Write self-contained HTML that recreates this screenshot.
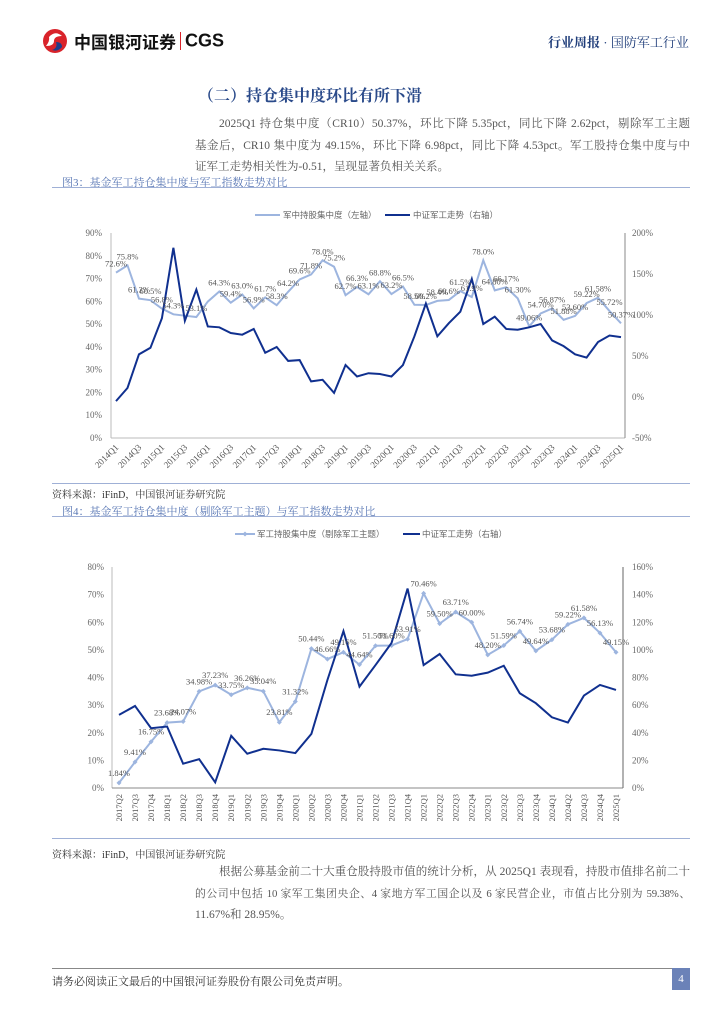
<!DOCTYPE html>
<html><head><meta charset="utf-8">
<style>
body{margin:0;width:724px;height:1024px;background:#fff;position:relative;font-family:"Liberation Serif","Noto Serif CJK SC",serif;color:#444;overflow:hidden}
.abs{position:absolute;white-space:nowrap}
.p{font-size:11.5px;color:#555;width:495px}
.p div{height:21.5px;line-height:21.5px;text-align:justify;text-align-last:justify;white-space:normal;overflow:hidden}
.p div.last{text-align-last:left}
.fig{font-size:11px;color:#5a78b5}
.src{font-size:10px;color:#333}
.hl{position:absolute;height:1px;background:#9fb0d6}
svg text{font-family:"Liberation Serif","Noto Sans CJK SC",serif}
</style></head><body>
<div class="abs" style="left:40px;top:28px;height:26px;">
 <svg width="30" height="26" style="vertical-align:middle"><circle cx="15" cy="13" r="12" fill="#d9232a"/><path d="M9 9 Q15 2 22 8 Q14 8 14 13 Q14 18 6 18 Q10 13 9 9Z" fill="#fff"/><path d="M16 14 Q22 14 22 19 Q18 24 12 22 Q18 20 16 14Z" fill="#1f3d8a"/></svg>
 <span style="font-family:'Liberation Sans','Noto Sans CJK SC',sans-serif;font-weight:bold;font-size:17px;color:#111;vertical-align:middle">中国银河证券</span><span style="display:inline-block;width:1px;height:18px;background:#d9232a;margin:0 4px;vertical-align:middle"></span><span style="font-family:'Liberation Sans',sans-serif;font-weight:bold;font-size:18px;color:#111;vertical-align:middle">CGS</span>
</div>
<div class="abs" style="left:548px;top:32px;font-size:13px;color:#1f3d7a;font-family:'Liberation Serif','Noto Serif CJK SC',serif"><b>行业周报</b> · 国防军工行业</div>
<div class="abs" style="left:198px;top:83px;font-size:16px;font-weight:bold;color:#2a4a8a;font-family:'Liberation Serif','Noto Serif CJK SC',serif">（二）持仓集中度环比有所下滑</div>
<div class="abs p" style="left:195px;top:114px">
<div style="padding-left:24px">2025Q1 持仓集中度（CR10）50.37%，环比下降 5.35pct，同比下降 2.62pct，剔除军工主题</div>
<div>基金后，CR10 集中度为 49.15%，环比下降 6.98pct，同比下降 4.53pct。军工股持仓集中度与中</div>
<div class="last">证军工走势相关性为-0.51，呈现显著负相关关系。</div></div>
<div class="abs fig" style="left:62px;top:174px">图3：基金军工持仓集中度与军工指数走势对比</div>
<div class="hl" style="left:52px;top:187px;width:638px"></div>
<div class="hl" style="left:52px;top:483px;width:638px"></div>
<div class="abs src" style="left:52px;top:486px">资料来源：iFinD，中国银河证券研究院</div>
<div class="abs fig" style="left:62px;top:503px">图4：基金军工持仓集中度（剔除军工主题）与军工指数走势对比</div>
<div class="hl" style="left:52px;top:516px;width:638px"></div>
<div class="hl" style="left:52px;top:838px;width:638px"></div>
<div class="abs src" style="left:52px;top:846px">资料来源：iFinD，中国银河证券研究院</div>
<div class="abs p" style="left:195px;top:862px">
<div style="padding-left:24px">根据公募基金前二十大重仓股持股市值的统计分析，从 2025Q1 表现看，持股市值排名前二十</div>
<div style="font-size:10.8px;letter-spacing:-0.2px">的公司中包括 10 家军工集团央企、4 家地方军工国企以及 6 家民营企业，市值占比分别为 59.38%、</div>
<div class="last">11.67%和 28.95%。</div></div>
<div class="hl" style="left:52px;top:968px;width:638px;background:#888"></div>
<div class="abs src" style="left:52px;top:973px;font-size:11px">请务必阅读正文最后的中国银河证券股份有限公司免责声明。</div>
<div class="abs" style="left:672px;top:968px;width:18px;height:22px;background:#6b82b8;color:#fff;font-size:11px;text-align:center;line-height:22px">4</div>

<svg id="c1" class="abs" style="left:0;top:190px" width="724" height="292"></svg>
<svg id="c2" class="abs" style="left:0;top:520px" width="724" height="318"></svg>

<script>
const c1Cats=["2014Q1","2014Q2","2014Q3","2014Q4","2015Q1","2015Q2","2015Q3","2015Q4","2016Q1","2016Q2","2016Q3","2016Q4","2017Q1","2017Q2","2017Q3","2017Q4","2018Q1","2018Q2","2018Q3","2018Q4","2019Q1","2019Q2","2019Q3","2019Q4","2020Q1","2020Q2","2020Q3","2020Q4","2021Q1","2021Q2","2021Q3","2021Q4","2022Q1","2022Q2","2022Q3","2022Q4","2023Q1","2023Q2","2023Q3","2023Q4","2024Q1","2024Q2","2024Q3","2024Q4","2025Q1"];
const c1Conc=[72.6,75.8,61.2,60.5,56.8,54.3,53.7,53.1,59.9,64.3,59.4,63.0,56.9,61.7,58.3,64.2,69.6,71.8,78.0,75.2,62.7,66.3,63.1,68.8,63.2,66.5,58.5,58.4,60.2,60.6,64.5,61.9,78.0,64.80,66.17,61.30,49.06,54.70,56.87,51.88,53.60,59.22,61.58,55.72,50.37];
const c1Index=[-5,11,52,60,96,182,93,131,86,85,78,76,83,54,61,44,45,19,21,5,39,25,29,28,25,39,74,114,74,90,104,144,89,98,83,82,85,89,69,62,52,48,67,75,73];
const c1Labels=["72.6%","75.8%","61.2%","60.5%","56.8%","54.3%","","53.1%","","64.3%","59.4%","63.0%","56.9%","61.7%","58.3%","64.2%","69.6%","71.8%","78.0%","75.2%","62.7%","66.3%","63.1%","68.8%","63.2%","66.5%","58.5%","60.2%","58.4%","60.6%","61.5%","61.9%","78.0%","64.80%","66.17%","61.30%","49.06%","54.70%","56.87%","51.88%","53.60%","59.22%","61.58%","55.72%","50.37%"];
const c1LeftTicks=[0,10,20,30,40,50,60,70,80,90];
const c1RightTicks=[-50,0,50,100,150,200];

const c2Cats=["2017Q2","2017Q3","2017Q4","2018Q1","2018Q2","2018Q3","2018Q4","2019Q1","2019Q2","2019Q3","2019Q4","2020Q1","2020Q2","2020Q3","2020Q4","2021Q1","2021Q2","2021Q3","2021Q4","2022Q1","2022Q2","2022Q3","2022Q4","2023Q1","2023Q2","2023Q3","2023Q4","2024Q1","2024Q2","2024Q3","2024Q4","2025Q1"];
const c2Conc=[1.84,9.41,16.75,23.68,24.07,34.98,37.23,33.75,36.26,35.04,23.81,31.32,50.44,46.66,49.16,44.64,51.50,51.60,53.91,70.46,59.50,63.71,60.00,48.20,51.59,56.74,49.64,53.68,59.22,61.58,56.13,49.15];
const c2Index=[52.9,59.4,43.3,44.5,17.6,20.9,4.1,37.8,24.8,28.4,27.2,25.3,39.2,78.2,113.6,73.4,89,105,144.4,89,97,82.3,81.3,83.5,88.5,68.6,61.4,51.2,47.4,66.9,74.6,71];
const c2LeftTicks=[0,10,20,30,40,50,60,70,80];
const c2RightTicks=[0,20,40,60,80,100,120,140,160];

const NS="http://www.w3.org/2000/svg";
function mk(svg,tag,attrs,txt){const e=document.createElementNS(NS,tag);for(const k in attrs)e.setAttribute(k,attrs[k]);if(txt!==undefined)e.textContent=txt;svg.appendChild(e);return e;}
const LIGHT="#9db5df",DARK="#10308f";

(function(){
 const s=document.getElementById('c1');
 const x0=116,dx=(621-116)/44,yTop=43,yBot=248;
 const xs=i=>x0+i*dx;
 const yl=v=>yBot-(v/90)*(yBot-yTop);
 const yr=v=>yBot-((v+50)/250)*(yBot-yTop);
 mk(s,'line',{x1:111,y1:yTop,x2:111,y2:yBot,stroke:'#bbb'});
 mk(s,'line',{x1:111,y1:yBot,x2:625,y2:yBot,stroke:'#bbb'});
 mk(s,'line',{x1:625,y1:yTop,x2:625,y2:yBot,stroke:'#888'});
 c1LeftTicks.forEach(v=>{const t=mk(s,'text',{x:102,y:yl(v)+3,'text-anchor':'end','font-size':9,fill:'#666'},v+'%');
  
  });
 c1RightTicks.forEach(v=>{const t=mk(s,'text',{x:632,y:yr(v)+3,'font-size':9,fill:'#666'},v+'%');
  
  });
 c1Cats.forEach((c,i)=>{if(i%2)return;const x=xs(i)+3,y=yBot+10;const t=mk(s,'text',{x:x,y:y,'text-anchor':'end','font-size':9,fill:'#555',transform:`rotate(-45 ${x} ${y})`},c);
  
  });
 const pl=mk(s,'polyline',{points:c1Conc.map((v,i)=>xs(i)+','+yl(v)).join(' '),fill:'none',stroke:LIGHT,'stroke-width':2});
 
 
 const pd=mk(s,'polyline',{points:c1Index.map((v,i)=>xs(i)+','+yr(v)).join(' '),fill:'none',stroke:DARK,'stroke-width':2});
 
 
 c1Conc.forEach((v,i)=>{if(!c1Labels[i])return;const t=mk(s,'text',{x:xs(i),y:yl(v)-6,'text-anchor':'middle','font-size':8.5,fill:'#555'},c1Labels[i]);
  
  });
 mk(s,'line',{x1:255,y1:25,x2:280,y2:25,stroke:LIGHT,'stroke-width':2});
 const l1=mk(s,'text',{x:283,y:28,'font-size':8.5,fill:'#666'},'军中持股集中度（左轴）');
 
 
 mk(s,'line',{x1:385,y1:25,x2:410,y2:25,stroke:DARK,'stroke-width':2});
 const l2=mk(s,'text',{x:413,y:28,'font-size':8.5,fill:'#666'},'中证军工走势（右轴）');
 
 
})();

(function(){
 const s=document.getElementById('c2');
 const x0=119,dx=(616-119)/31,yTop=47,yBot=268;
 const xs=i=>x0+i*dx;
 const yl=v=>yBot-(v/80)*(yBot-yTop);
 const yr=v=>yBot-(v/160)*(yBot-yTop);
 mk(s,'line',{x1:112,y1:yTop,x2:112,y2:yBot,stroke:'#bbb'});
 mk(s,'line',{x1:112,y1:yBot,x2:623,y2:yBot,stroke:'#888'});
 mk(s,'line',{x1:623,y1:yTop,x2:623,y2:yBot,stroke:'#666'});
 c2LeftTicks.forEach(v=>{const t=mk(s,'text',{x:104,y:yl(v)+3,'text-anchor':'end','font-size':9,fill:'#666'},v+'%');
  
  });
 c2RightTicks.forEach(v=>{const t=mk(s,'text',{x:632,y:yr(v)+3,'font-size':9,fill:'#666'},v+'%');
  
  });
 c2Cats.forEach((c,i)=>{const x=xs(i)+3,y=yBot+6;const t=mk(s,'text',{x:x,y:y,'text-anchor':'end','font-size':8.5,fill:'#555',transform:`rotate(-90 ${x} ${y})`},c);
  
  });
 const pl=mk(s,'polyline',{points:c2Conc.map((v,i)=>xs(i)+','+yl(v)).join(' '),fill:'none',stroke:LIGHT,'stroke-width':2});
 
 
 c2Conc.forEach((v,i)=>{const x=xs(i),y=yl(v);const m=mk(s,'path',{d:`M${x} ${y-2.5}L${x+2.5} ${y}L${x} ${y+2.5}L${x-2.5} ${y}Z`,fill:LIGHT});
  
  });
 const pd=mk(s,'polyline',{points:c2Index.map((v,i)=>xs(i)+','+yr(v)).join(' '),fill:'none',stroke:DARK,'stroke-width':2});
 
 
 c2Conc.forEach((v,i)=>{const t=mk(s,'text',{x:xs(i),y:yl(v)-7,'text-anchor':'middle','font-size':8.5,fill:'#555'},v.toFixed(2)+'%');
  
  });
 mk(s,'line',{x1:235,y1:14,x2:255,y2:14,stroke:LIGHT,'stroke-width':2});
 mk(s,'path',{d:'M245 11.5L247.5 14L245 16.5L242.5 14Z',fill:LIGHT});
 const l1=mk(s,'text',{x:257,y:17,'font-size':8.5,fill:'#666'},'军工持股集中度（剔除军工主题）');
 
 
 mk(s,'line',{x1:403,y1:14,x2:420,y2:14,stroke:DARK,'stroke-width':2});
 const l2=mk(s,'text',{x:422,y:17,'font-size':8.5,fill:'#666'},'中证军工走势（右轴）');
 
 
})();
</script>
</body></html>
